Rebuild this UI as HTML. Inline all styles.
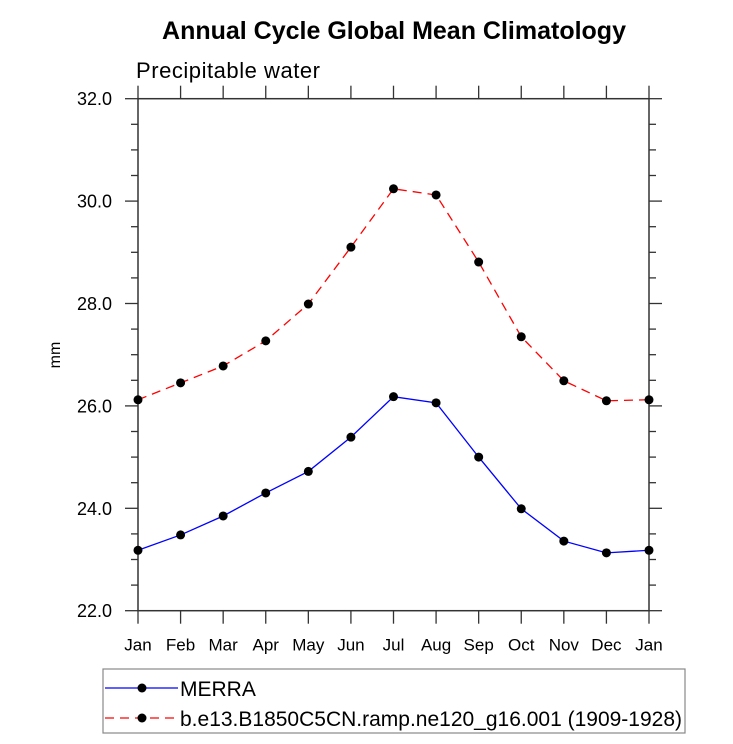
<!DOCTYPE html>
<html><head><meta charset="utf-8"><style>
html,body{margin:0;padding:0;background:#fff;}
svg{display:block;font-family:"Liberation Sans",Arial,sans-serif;}
</style></head><body>
<svg id="chart" width="733" height="744" viewBox="0 0 733 744">
<text x="394" y="39" text-anchor="middle" font-size="25" font-weight="bold">Annual Cycle Global Mean Climatology</text>
<text x="136" y="78" font-size="22" textLength="184">Precipitable water</text>
<text transform="translate(60,355) rotate(-90)" text-anchor="middle" font-size="16">mm</text>
<g id="axes"></g>
<g id="series"></g>
<rect x="103" y="669" width="582" height="64" fill="none" stroke="#888" stroke-width="1.2"/>
<g>
<line x1="105" y1="688" x2="178" y2="688" stroke="#0000ff" stroke-width="1.3"/>
<circle cx="142" cy="688" r="4.5" fill="#000"/>
<text x="180" y="696" font-size="21">MERRA</text>
</g>
<g>
<line x1="105" y1="718" x2="178" y2="718" stroke="#ff0000" stroke-width="1.3" stroke-dasharray="9,6"/>
<circle cx="142" cy="718" r="4.5" fill="#000"/>
<text x="180" y="726" font-size="21" textLength="502">b.e13.B1850C5CN.ramp.ne120_g16.001 (1909-1928)</text>
</g>
</svg>
<script>
const months = ["Jan","Feb","Mar","Apr","May","Jun","Jul","Aug","Sep","Oct","Nov","Dec","Jan"];
const merra = [23.18,23.48,23.85,24.30,24.72,25.39,26.18,26.06,25.00,23.99,23.36,23.13,23.18];
const model = [26.12,26.45,26.78,27.27,27.99,29.10,30.24,30.12,28.81,27.35,26.49,26.10,26.12];
const yTicks = [22,24,26,28,30,32];
const yMin = 22, yMax = 32;
const L=138, R=649, T=98.7, B=610.7;
const NS="http://www.w3.org/2000/svg";
function xs(i){return L+(R-L)*i/(months.length-1);}
function ys(v){return B-(v-yMin)/(yMax-yMin)*(B-T);}
function mk(tag,attrs,parent){const e=document.createElementNS(NS,tag);for(const k in attrs)e.setAttribute(k,attrs[k]);parent.appendChild(e);return e;}
const ax=document.getElementById('axes');
const frame=mk('rect',{x:L,y:T,width:R-L,height:B-T,fill:'none',stroke:'#333','stroke-width':1.5},ax);


const tk={stroke:'#333','stroke-width':1.3};
months.forEach((m,i)=>{
  const x=xs(i);
  mk('line',Object.assign({x1:x,x2:x,y1:B,y2:B+13},tk),ax);
  mk('line',Object.assign({x1:x,x2:x,y1:T,y2:T-13},tk),ax);
  const t=mk('text',{x:x,y:B+40,'text-anchor':'middle','font-size':17},ax);
  t.textContent=m;
  
  
});
for(let v=yMin;v<=yMax+1e-9;v+=0.5){
  const y=ys(v);const major=Math.abs(v-Math.round(v/2)*2)<1e-6;
  const len=major?13:7;
  mk('line',Object.assign({x1:L-len,x2:L,y1:y,y2:y},tk),ax);
  mk('line',Object.assign({x1:R,x2:R+len,y1:y,y2:y},tk),ax);
}
yTicks.forEach(v=>{
  const t=mk('text',{x:112,y:ys(v)+6.5,'text-anchor':'end','font-size':18},ax);
  t.textContent=v.toFixed(1);
  
  
});
const sg=document.getElementById('series');
function series(data,color,dash,name){
  const g=mk('g',{},sg);
  
  
  const pts=data.map((v,i)=>xs(i)+','+ys(v)).join(' ');
  const p=mk('polyline',{points:pts,fill:'none',stroke:color,'stroke-width':1.3},g);
  if(dash)p.setAttribute('stroke-dasharray',dash);
  data.forEach((v,i)=>{
    const c=mk('circle',{cx:xs(i),cy:ys(v),r:4.5,fill:'#000'},g);
    
    
  });
}
series(merra,'#0000ff',null,'merra-series');
series(model,'#ff0000','9,6','model-series');
</script>
</body></html>
